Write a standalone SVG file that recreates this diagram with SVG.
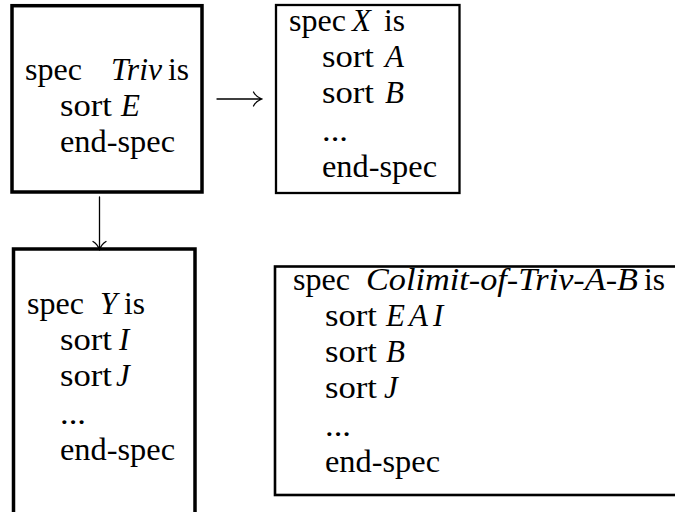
<svg xmlns="http://www.w3.org/2000/svg" width="675" height="512" viewBox="0 0 675 512">
<style>
  .box { fill: none; stroke: #000; }
  text { font-family: "Liberation Serif", "Times New Roman", serif; font-size: 31px; fill: #000; }
  .it { font-style: italic; }
  .arr { fill: none; stroke: #000; stroke-width: 1.3; stroke-linecap: round; }
</style>
<rect width="675" height="512" fill="#fff"/>
<g id="node-triv">
  <rect class="box" x="12" y="5.7" width="190" height="186.3" stroke-width="3.5"/>
  <text x="25" y="80" textLength="57" lengthAdjust="spacingAndGlyphs">spec</text><text class="it" x="111" y="80" textLength="51" lengthAdjust="spacingAndGlyphs">Triv</text><text x="168" y="80" textLength="21" lengthAdjust="spacingAndGlyphs">is</text>
  <text x="60" y="116" textLength="52" lengthAdjust="spacingAndGlyphs">sort</text><text class="it" x="121" y="116">E</text>
  <text x="60" y="152" textLength="115" lengthAdjust="spacingAndGlyphs">end-spec</text>
</g>
<g id="node-x">
  <rect class="box" x="276" y="5" width="183.5" height="188" stroke-width="2.3"/>
  <text x="289" y="31" textLength="57" lengthAdjust="spacingAndGlyphs">spec</text><text class="it" x="352" y="31">X</text><text x="384" y="31" textLength="21" lengthAdjust="spacingAndGlyphs">is</text>
  <text x="322" y="67" textLength="52" lengthAdjust="spacingAndGlyphs">sort</text><text class="it" x="385" y="67">A</text>
  <text x="322" y="103" textLength="52" lengthAdjust="spacingAndGlyphs">sort</text><text class="it" x="385" y="103">B</text>
  <text x="322" y="141" textLength="26" lengthAdjust="spacingAndGlyphs">...</text>
  <text x="322" y="177" textLength="115" lengthAdjust="spacingAndGlyphs">end-spec</text>
</g>
<g id="node-y">
  <rect class="box" x="13.5" y="249" width="181.5" height="280" stroke-width="3.5"/>
  <text x="27" y="314" textLength="57" lengthAdjust="spacingAndGlyphs">spec</text><text class="it" x="100" y="314">Y</text><text x="124" y="314" textLength="21" lengthAdjust="spacingAndGlyphs">is</text>
  <text x="60" y="350" textLength="52" lengthAdjust="spacingAndGlyphs">sort</text><text class="it" x="119" y="350">I</text>
  <text x="60" y="386" textLength="52" lengthAdjust="spacingAndGlyphs">sort</text><text class="it" x="116" y="386">J</text>
  <text x="60" y="424" textLength="26" lengthAdjust="spacingAndGlyphs">...</text>
  <text x="60" y="460" textLength="115" lengthAdjust="spacingAndGlyphs">end-spec</text>
</g>
<g id="node-colimit">
  <rect class="box" x="275" y="266.5" width="420" height="228.5" stroke-width="2.6"/>
  <text x="293" y="290" textLength="57" lengthAdjust="spacingAndGlyphs">spec</text><text class="it" x="366" y="290" textLength="272" lengthAdjust="spacingAndGlyphs">Colimit-of-Triv-A-B</text><text x="644" y="290" textLength="21" lengthAdjust="spacingAndGlyphs">is</text>
  <text x="325" y="326" textLength="52" lengthAdjust="spacingAndGlyphs">sort</text><text class="it" x="386" y="326">E<tspan x="409">A</tspan><tspan x="433">I</tspan></text>
  <text x="325" y="362" textLength="52" lengthAdjust="spacingAndGlyphs">sort</text><text class="it" x="386" y="362">B</text>
  <text x="325" y="398" textLength="52" lengthAdjust="spacingAndGlyphs">sort</text><text class="it" x="384" y="398">J</text>
  <text x="325" y="436" textLength="26" lengthAdjust="spacingAndGlyphs">...</text>
  <text x="325" y="472" textLength="115" lengthAdjust="spacingAndGlyphs">end-spec</text>
</g>
<g id="connectors">
  <path class="arr" d="M217 99 H262 M262 99 Q256 97 253.5 92 M262 99 Q256 101 253.5 106"/>
  <path class="arr" d="M99.5 197 V250 M99.5 250 Q97.5 244 93 241.5 M99.5 250 Q101.5 244 106 241.5"/>
</g>
</svg>
